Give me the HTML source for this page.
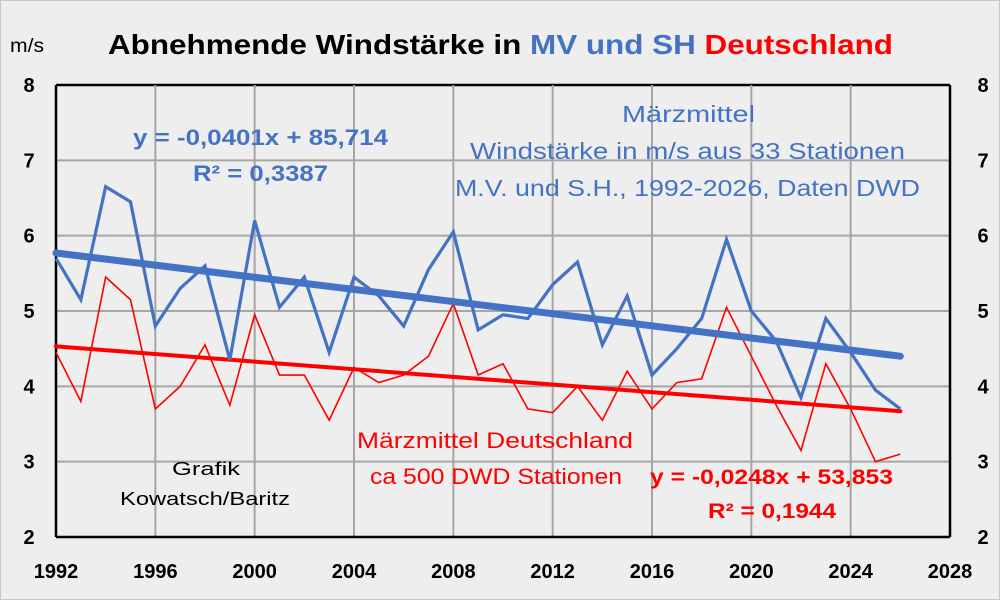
<!DOCTYPE html>
<html><head><meta charset="utf-8"><style>
body{margin:0;background:#eee;}
svg{display:block;font-family:"Liberation Sans",sans-serif;font-weight:bold;}
</style></head><body>
<svg width="1000" height="600" viewBox="0 0 1000 600">
<rect x="0.5" y="0.5" width="999" height="599" fill="#eeeeee" stroke="#c8c8c8"/>
<g id="grid"></g>
<g id="series"></g>
<g id="labels"></g>
<text x="10" y="52" font-size="19" font-weight="normal" fill="#000" textLength="34" lengthAdjust="spacingAndGlyphs">m/s</text>
<text x="108" y="54" font-size="28" textLength="785" lengthAdjust="spacingAndGlyphs"><tspan fill="#000">Abnehmende Windstärke  in </tspan><tspan fill="#4472c4">MV und SH </tspan><tspan fill="#ff0000">Deutschland</tspan></text>
<text x="133" y="145" font-size="22" fill="#4472c4" textLength="255" lengthAdjust="spacingAndGlyphs">y = -0,0401x + 85,714</text>
<text x="193" y="181" font-size="22" fill="#4472c4" textLength="135" lengthAdjust="spacingAndGlyphs">R² = 0,3387</text>
<text x="622" y="122" font-size="23" font-weight="normal" fill="#4472c4" textLength="133" lengthAdjust="spacingAndGlyphs">Märzmittel</text>
<text x="470" y="159" font-size="23" font-weight="normal" fill="#4472c4" textLength="435" lengthAdjust="spacingAndGlyphs">Windstärke in m/s aus 33 Stationen</text>
<text x="455" y="196" font-size="23" font-weight="normal" fill="#4472c4" textLength="465" lengthAdjust="spacingAndGlyphs">M.V. und S.H., 1992-2026, Daten DWD</text>
<text x="357" y="448" font-size="22" font-weight="normal" fill="#ff0000" textLength="276" lengthAdjust="spacingAndGlyphs">Märzmittel Deutschland</text>
<text x="370" y="484" font-size="22" font-weight="normal" fill="#ff0000" textLength="252" lengthAdjust="spacingAndGlyphs">ca 500 DWD Stationen</text>
<text x="650" y="484" font-size="21" fill="#ff0000" textLength="243" lengthAdjust="spacingAndGlyphs">y = -0,0248x + 53,853</text>
<text x="708" y="518" font-size="21" fill="#ff0000" textLength="128" lengthAdjust="spacingAndGlyphs">R² = 0,1944</text>
<text x="172" y="475" font-size="18" font-weight="normal" fill="#000" textLength="68" lengthAdjust="spacingAndGlyphs">Grafik</text>
<text x="120" y="505" font-size="18" font-weight="normal" fill="#000" textLength="170" lengthAdjust="spacingAndGlyphs">Kowatsch/Baritz</text>
</svg>
<script>
const years=[1992,1993,1994,1995,1996,1997,1998,1999,2000,2001,2002,2003,2004,2005,2006,2007,2008,2009,2010,2011,2012,2013,2014,2015,2016,2017,2018,2019,2020,2021,2022,2023,2024,2025,2026];
const mvsh=[5.7,5.15,6.65,6.45,4.8,5.3,5.6,4.35,6.2,5.05,5.45,4.45,5.45,5.2,4.8,5.55,6.05,4.75,4.95,4.9,5.35,5.65,4.55,5.2,4.15,4.5,4.9,5.95,5.0,4.6,3.85,4.9,4.45,3.95,3.7];
const germany=[4.45,3.8,5.45,5.15,3.7,4.0,4.55,3.75,4.95,4.15,4.15,3.55,4.25,4.05,4.15,4.4,5.1,4.15,4.3,3.7,3.65,4.0,3.55,4.2,3.7,4.05,4.1,5.05,4.4,3.75,3.15,4.3,3.7,3.0,3.1];
const mvshTrend=[5.77,4.4];
const germanyTrend=[4.53,3.67];
const xTicks=[1992,1996,2000,2004,2008,2012,2016,2020,2024,2028];
const yTicks=[2,3,4,5,6,7,8];
const NS='http://www.w3.org/2000/svg';
const X=v=>56+(v-1992)*(950-56)/36;
const Y=v=>537-(v-2)*(537-85)/6;
function mk(tag,attrs,parent,txt){const e=document.createElementNS(NS,tag);for(const k in attrs)e.setAttribute(k,attrs[k]);if(txt!==undefined)e.textContent=txt;document.getElementById(parent).appendChild(e);return e;}
yTicks.forEach(t=>{
 const l=mk('line',{x1:56,x2:950,y1:Y(t),y2:Y(t),stroke:t===8?'#000':'#a6a6a6','stroke-width':t===8?2.5:2},'grid');
 
 
 const a=mk('text',{x:29,y:Y(t)+7,'font-size':20,'text-anchor':'middle'},'labels',t);
 
 
 const b=mk('text',{x:983,y:Y(t)+7,'font-size':20,'text-anchor':'middle'},'labels',t);
 
 
});
xTicks.forEach(t=>{
 const l=mk('line',{x1:X(t),x2:X(t),y1:85,y2:537,stroke:'#a6a6a6','stroke-width':2},'grid');
 
 
 const a=mk('text',{x:X(t),y:578,'font-size':20,'text-anchor':'middle'},'labels',t);
 
 
});
[56,950].forEach(a=>{const l=mk('line',{x1:a,x2:a,y1:85,y2:537,stroke:'#000','stroke-width':2.5},'grid');
 
 });
const xa=mk('line',{x1:56,x2:950,y1:537,y2:537,stroke:'#000','stroke-width':2.5},'grid');


function poly(vals,color,w,name){const p=mk('polyline',{points:vals.map((v,i)=>X(years[i])+','+Y(v)).join(' '),fill:'none',stroke:color,'stroke-width':w,'stroke-linejoin':'miter'},'series');
 
 }
function trend(v,color,w,name){const l=mk('line',{x1:X(years[0]),y1:Y(v[0]),x2:X(years[years.length-1]),y2:Y(v[1]),stroke:color,'stroke-width':w,'stroke-linecap':'round'},'series');
 
 }
trend(germanyTrend,'#ff0000',4,'germany-trendline');
poly(germany,'#ff0000',1.6,'germany-series');
poly(mvsh,'#4472c4',3.2,'mvsh-series');
trend(mvshTrend,'#4472c4',7,'mvsh-trendline');
</script>
</body></html>
